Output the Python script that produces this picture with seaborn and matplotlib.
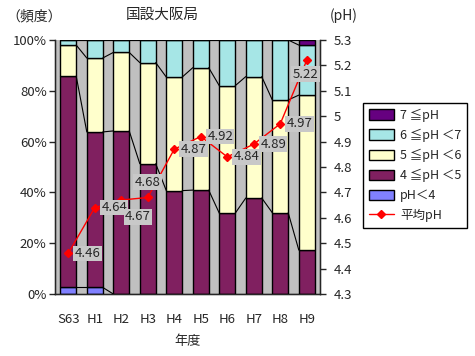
import matplotlib
matplotlib.use('Agg')
import matplotlib.pyplot as plt
import matplotlib.patches as mpatches
import matplotlib.lines as mlines
import numpy as np
import pandas as pd
import seaborn as sns

# data
years = ['S63', 'H1', 'H2', 'H3', 'H4', 'H5', 'H6', 'H7', 'H8', 'H9']
ph_lt4 = [2.6, 2.6, 0, 0, 0, 0, 0, 0, 0, 0]
ph_4to5 = [83.2, 61.2, 64.2, 51.3, 40.7, 40.9, 31.8, 37.8, 32.0, 17.3]
ph_5to6 = [12.2, 29.1, 30.9, 39.8, 44.7, 48.2, 50.2, 47.8, 44.4, 61.0]
ph_6to7 = [2.0, 7.1, 4.9, 8.9, 14.6, 10.9, 18.0, 14.4, 23.6, 19.7]
ph_ge7 = [0, 0, 0, 0, 0, 0, 0, 0, 0, 2.0]
mean_ph = [4.46, 4.64, 4.67, 4.68, 4.87, 4.92, 4.84, 4.89, 4.97, 5.22]

series_names = ['pH＜4', '4 ≦pH ＜5', '5 ≦pH ＜6', '6 ≦pH ＜7', '7 ≦pH']
series_vals = [ph_lt4, ph_4to5, ph_5to6, ph_6to7, ph_ge7]
colors = ['#8080FF', '#802060', '#FFFFCC', '#A6E6E6', '#660080']

# label offsets in points (dx, dy) for each mean pH annotation
label_offsets = [(14, 0), (14, 0), (12, -12), (0, 11), (14, 0),
                 (14, 0), (14, 0), (14, 0), (14, 0), (-1, -10)]

sns.set_style('white')
plt.rcParams['font.family'] = ['Noto Sans CJK JP', 'DejaVu Sans']
plt.rcParams['font.size'] = 9.5

fig = plt.figure(figsize=(4.75, 3.56), dpi=100)
ax = fig.add_axes([55 / 475, 1 - 294 / 356, 265 / 475, 254 / 356])
ax.set_facecolor('#C0C0C0')

bar_w = 0.6
df = pd.DataFrame({'year': years})
bottom = np.zeros(len(years))
tops = []
for name, vals, col in zip(series_names, series_vals, colors):
    df['v'] = vals
    sns.barplot(data=df, x='year', y='v', bottom=bottom, color=col,
                width=bar_w, edgecolor='black', linewidth=1, ax=ax,
                saturation=1, errorbar=None)
    bottom = bottom + np.array(vals)
    tops.append(bottom.copy())

# series lines between neighbouring bars
for top in tops:
    for i in range(len(years) - 1):
        ax.plot([i + bar_w / 2, i + 1 - bar_w / 2], [top[i], top[i + 1]],
                color='black', lw=0.8)

ax.set_xlim(-0.5, len(years) - 0.5)
ax.set_ylim(0, 100)
ax.set_yticks(range(0, 101, 20))
ax.set_yticklabels([f'{v}%' for v in range(0, 101, 20)])
ax.set_xticks(range(len(years)))
ax.set_xticklabels(years)
ax.set_xticks(np.arange(-0.5, len(years), 1), minor=True)
ax.tick_params(axis='x', which='major', length=0, pad=14)
ax.tick_params(axis='x', which='minor', length=4, direction='out', width=1)
ax.tick_params(axis='y', length=4, direction='out', width=1, pad=2)
ax.set_xlabel('年度', labelpad=6)
ax.set_ylabel('')
for s in ax.spines.values():
    s.set_color('black')
    s.set_linewidth(1)
ax.spines['top'].set_visible(False)

ax2 = ax.twinx()
x_pos = np.arange(len(years))
ax2.plot(x_pos, mean_ph, color='red', lw=1, marker='D', ms=4.5)
ax2.set_ylim(4.3, 5.3)
ticks2 = np.round(np.arange(4.3, 5.31, 0.1), 1)
ax2.set_yticks(ticks2)
ax2.set_yticklabels([f'{t:g}' for t in ticks2])
ax2.tick_params(axis='y', length=4, direction='out', width=1, pad=6)
ax2.spines['top'].set_visible(False)
for i, v in enumerate(mean_ph):
    dx, dy = label_offsets[i]
    ax2.annotate(f'{v:.2f}', (x_pos[i], v), xytext=(dx, dy),
                 textcoords='offset points', ha='center', va='center',
                 bbox=dict(boxstyle='square,pad=0.1', fc='#C8C8C8', ec='none'))

fig.text(6 / 475, 1 - 16 / 356, '（頻度）', ha='left', va='center', fontsize=10)
fig.text(162 / 475, 1 - 15 / 356, '国設大阪局', ha='center', va='center', fontsize=10.5)
fig.text(330 / 475, 1 - 16 / 356, '(pH)', ha='left', va='center', fontsize=10)

handles = [mpatches.Patch(fc=c, ec='black', lw=1, label=n)
           for n, c in zip(series_names[::-1], colors[::-1])]
handles.append(mlines.Line2D([], [], color='red', marker='D', ms=4.5, lw=1, label='平均pH'))
leg = fig.legend(handles=handles, loc='upper left',
                 bbox_to_anchor=(363 / 475, 1 - 103 / 356), borderaxespad=0,
                 frameon=True, fancybox=False, edgecolor='black', framealpha=1,
                 fontsize=9, handlelength=2.0, handleheight=0.9,
                 labelspacing=0.55, borderpad=0.45, handletextpad=0.5)
leg.get_frame().set_linewidth(1)

fig.savefig('out.png', dpi=100)
